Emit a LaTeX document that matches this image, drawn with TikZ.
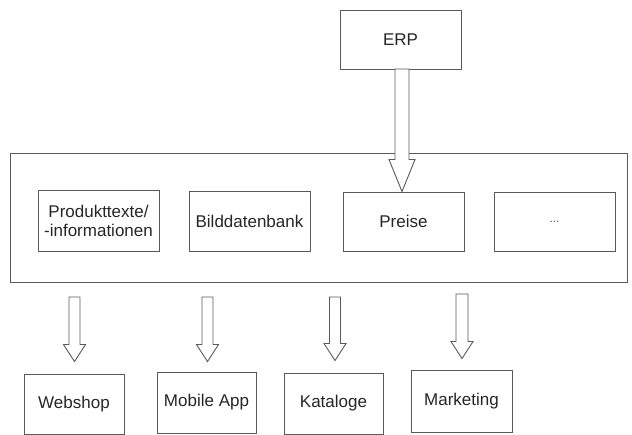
\documentclass[tikz,border=0pt]{standalone}
\usepackage{fontspec}
\setmainfont{Liberation Sans}
\usetikzlibrary{calc}
\definecolor{linec}{HTML}{5A5A5A}
\definecolor{txtc}{HTML}{262626}
\tikzset{
  box/.style={draw=linec, line width=0.9pt, fill=white, rectangle, inner sep=0pt, align=center,
    text=txtc, font=\fontsize{17}{19}\selectfont},
  blk/.style={draw=linec, line width=0.9pt, fill=white, line join=miter},
}
\newcommand{\hollowarrow}[5]{%
  \draw[blk] let \p1=(#1), \p2=(#2) in
    (\x1-#3,\y1) -- (\x1-#3,\y2+#5) -- (\x1-#4,\y2+#5) -- (\x1,\y2) --
    (\x1+#4,\y2+#5) -- (\x1+#3,\y2+#5) -- (\x1+#3,\y1) -- cycle;}
\begin{document}
\begin{tikzpicture}[x=1pt,y=-1pt]
\useasboundingbox (0,0) rectangle (632,435);
% container
\node[box, minimum width=617pt, minimum height=129pt] (cont) at (318.5,217.5) {};
% ERP
\node[box, minimum width=121pt, minimum height=59pt] (erp) at (400.5,39.5) {ERP};
% inner boxes
\node[box, minimum width=121pt, minimum height=61pt] (prod) at (98.5,220.5) {Produkttexte/\\-informationen};
\node[box, minimum width=121pt, minimum height=60pt] (bild) at (249.5,221) {Bilddatenbank};
\node[box, minimum width=121pt, minimum height=59pt] (preise) at (403.5,221.5) {Preise};
\node[box, minimum width=121pt, minimum height=59pt] (more) at (554.5,221.5) {\textcolor{linec}{\fontsize{12}{14}\selectfont ...}};
% bottom boxes
\node[box, minimum width=100pt, minimum height=60pt] (web) at (74,404) {Webshop};
\node[box, minimum width=99pt, minimum height=61pt] (app) at (206.5,402.5) {Mobile App};
\node[box, minimum width=99pt, minimum height=61pt] (kat) at (333.5,403.5) {Kataloge};
\node[box, minimum width=101pt, minimum height=62pt] (mkt) at (461.5,401) {Marketing};
% ERP arrow
\coordinate (erps) at (402,69);
\hollowarrow{erps}{preise.north}{7pt}{13pt}{32pt}
% bottom arrow starts
\coordinate (s1) at (74.5,297);
\coordinate (s2) at (207.5,297);
\coordinate (s3) at (335,297);
\coordinate (s4) at (462,294);
\hollowarrow{s1}{$(web.north)+(0,-12)$}{5.5pt}{11pt}{17pt}
\hollowarrow{s2}{$(app.north)+(0,-10)$}{5.5pt}{11pt}{17pt}
\hollowarrow{s3}{$(kat.north)+(0,-12)$}{5.5pt}{11pt}{17pt}
\hollowarrow{s4}{$(mkt.north)+(0,-11)$}{6pt}{11pt}{17pt}
\end{tikzpicture}
\end{document}
